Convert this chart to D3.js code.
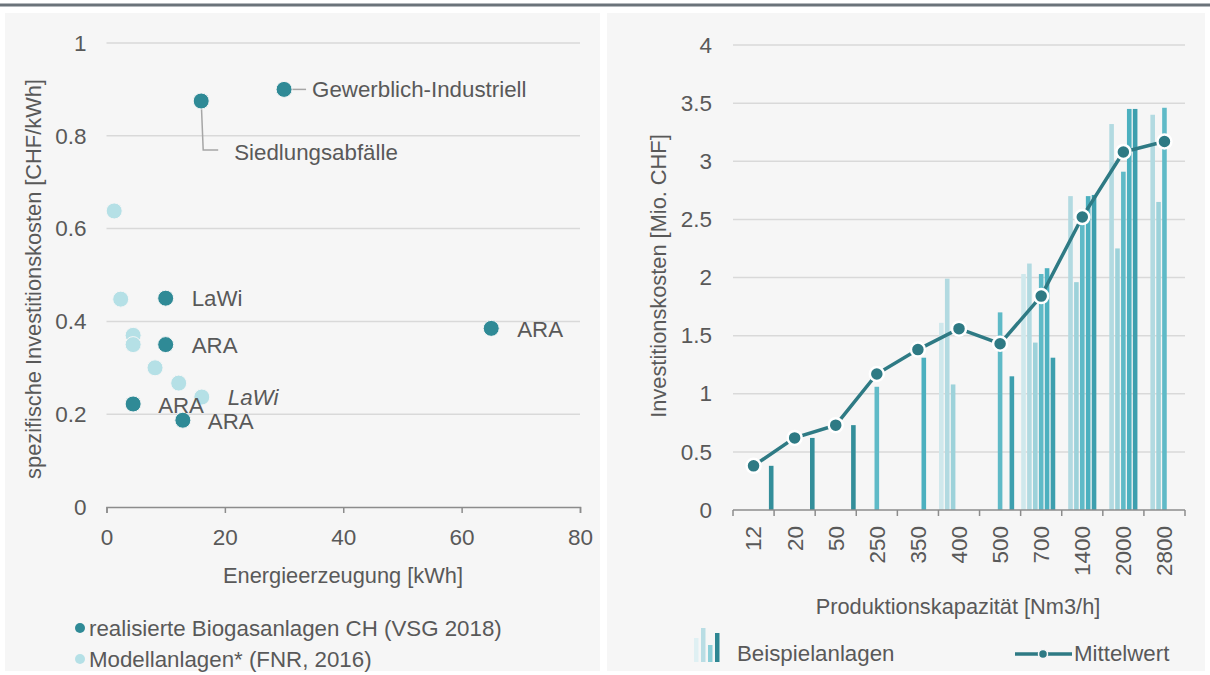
<!DOCTYPE html>
<html>
<head>
<meta charset="utf-8">
<script src="https://cdn.jsdelivr.net/npm/d3@7"></script>
<style>
  body { margin: 0; background: #fff; }
  svg text { font-family: "Liberation Sans", Arial, sans-serif; fill: #595959; }
</style>
</head>
<body>
<div id="chart"></div>
<script>
// ---- left chart: specific investment cost vs. energy production
var realX = [30, 16, 10, 10, 4.5, 12.9, 65];
var realY = [0.90, 0.875, 0.45, 0.35, 0.222, 0.187, 0.385];
var realLabels = ["Gewerblich-Industriell", "Siedlungsabfälle", "LaWi", "ARA", "ARA", "ARA", "ARA"];
var modelX = [1.3, 2.4, 4.5, 4.5, 8.2, 12.2, 16.1];
var modelY = [0.638, 0.448, 0.37, 0.35, 0.30, 0.267, 0.237];
var modelLabels = [null, null, null, null, null, null, "LaWi"];
var scatterXTicks = [0, 20, 40, 60, 80];
var scatterYTicks = [0, 0.2, 0.4, 0.6, 0.8, 1];

// ---- right chart: investment cost by production capacity
var capacities = ["12", "20", "50", "250", "350", "400", "500", "700", "1400", "2000", "2800"];
var anlage1 = [null, null, null, null, null, 1.61, null, 2.03, null, null, null];
var anlage2 = [null, null, null, null, null, 1.99, null, 2.12, 2.70, 3.32, 3.40];
var anlage3 = [null, null, null, null, null, 1.08, null, 1.44, 1.96, 2.25, 2.65];
var anlage4 = [null, null, null, 1.06, null, null, 1.70, 2.03, 2.48, 2.91, 3.46];
var anlage5 = [null, null, null, null, 1.31, null, null, 2.08, 2.70, 3.45, null];
var anlage6 = [null, null, null, null, null, null, 1.15, 1.31, 2.71, 3.45, null];
var anlage7 = [0.38, 0.62, 0.73, null, null, null, null, null, null, null, null];
var mittelwert = [0.38, 0.62, 0.73, 1.17, 1.38, 1.56, 1.43, 1.84, 2.52, 3.08, 3.17];
var barYTicks = [0, 0.5, 1, 1.5, 2, 2.5, 3, 3.5, 4];

var anlagen = [anlage1, anlage2, anlage3, anlage4, anlage5, anlage6, anlage7];
var shades = ["#cfe8ec", "#b2dae1", "#9dd2da", "#5fbac7", "#4cb0bf", "#3d9fae", "#338e9a"];
var dark = "#2f8a96", light = "#b5e0e6", lineColor = "#2e7a84";
var gridColor = "#d9d9d9", axisColor = "#8c8c8c";
var tickSize = 22.5, labelSize = 22.3, titleSize = 21.8;

var svg = d3.select("#chart").append("svg")
    .attr("width", 1210)
    .attr("height", 675);

// page frame
svg.append("line")
    .attr("x1", 0).attr("x2", 1210).attr("y1", 5).attr("y2", 5)
    .attr("stroke", "#6b737a").attr("stroke-width", 3);
svg.append("rect").attr("x", 5).attr("y", 13).attr("width", 595).attr("height", 658).attr("fill", "#f6f6f6");
svg.append("rect").attr("x", 607).attr("y", 13).attr("width", 598).attr("height", 658).attr("fill", "#f6f6f6");

// ================= left scatter =================
var x = d3.scaleLinear().domain([0, 80]).range([106.5, 580]);
var y = d3.scaleLinear().domain([0, 1]).range([507, 43]);

var left = svg.append("g");

left.append("g")
    .selectAll("line")
    .data(scatterYTicks.filter(function (d) { return d > 0; }))
    .enter().append("line")
    .attr("x1", x(0)).attr("x2", x(80))
    .attr("y1", function (d) { return y(d); })
    .attr("y2", function (d) { return y(d); })
    .attr("stroke", gridColor).attr("stroke-width", 1.5);

var xAxisL = left.append("g")
    .attr("transform", "translate(0," + y(0) + ")")
    .call(d3.axisBottom(x).tickValues(scatterXTicks).tickSize(6).tickPadding(16));
xAxisL.selectAll("path, line").attr("stroke", axisColor).attr("stroke-width", 1.5);
xAxisL.selectAll("text").attr("font-size", tickSize).attr("fill", "#595959");

var yAxisL = left.append("g")
    .attr("transform", "translate(" + (x(0) - 20) + ",0)")
    .call(d3.axisLeft(y).tickValues(scatterYTicks).tickSize(0).tickPadding(0)
        .tickFormat(function (d) { return String(d); }));
yAxisL.select(".domain").remove();
yAxisL.selectAll("text").attr("font-size", tickSize).attr("fill", "#595959");

left.append("text")
    .attr("transform", "translate(33," + ((y(0) + y(1)) / 2 + 4) + ") rotate(-90)")
    .attr("text-anchor", "middle").attr("dy", "0.35em")
    .attr("font-size", titleSize)
    .text("spezifische Investitionskosten [CHF/kWh]");

left.append("text")
    .attr("x", 343).attr("y", 575).attr("dy", "0.35em")
    .attr("text-anchor", "middle").attr("font-size", titleSize)
    .text("Energieerzeugung [kWh]");

// leader lines for the two outlying labels
left.append("path")
    .attr("d", "M" + x(realX[0]) + "," + y(realY[0]) + "H" + (x(realX[0]) + 22))
    .attr("stroke", "#a6a6a6").attr("stroke-width", 1.5).attr("fill", "none");
left.append("path")
    .attr("d", "M" + x(realX[1]) + "," + y(realY[1]) + "L" + (x(realX[1]) + 2) + "," + (y(realY[1]) + 49) + "H" + (x(realX[1]) + 17))
    .attr("stroke", "#a6a6a6").attr("stroke-width", 1.5).attr("fill", "none");

left.append("g").selectAll("circle")
    .data(modelX)
    .enter().append("circle")
    .attr("cx", function (d) { return x(d); })
    .attr("cy", function (d, i) { return y(modelY[i]); })
    .attr("r", 8)
    .attr("fill", light).attr("stroke", "#f6f6f6").attr("stroke-width", 1);

left.append("g").selectAll("circle")
    .data(realX)
    .enter().append("circle")
    .attr("cx", function (d) { return x(d); })
    .attr("cy", function (d, i) { return y(realY[i]); })
    .attr("r", 8)
    .attr("fill", dark).attr("stroke", "#f6f6f6").attr("stroke-width", 1);

// point labels
var labelShift = [[28, 0], [33, 51], [26, 0], [26, 1], [25, 1], [25, 1], [26, 1]];
left.append("g").selectAll("text")
    .data(realLabels)
    .enter().append("text")
    .attr("x", function (d, i) { return x(realX[i]) + labelShift[i][0]; })
    .attr("y", function (d, i) { return y(realY[i]) + labelShift[i][1]; })
    .attr("dy", "0.35em").attr("font-size", labelSize)
    .attr("fill", "#404040")
    .text(function (d) { return d; });
var modelIdx = d3.range(modelLabels.length).filter(function (i) { return modelLabels[i]; });
left.append("g").selectAll("text")
    .data(modelIdx)
    .enter().append("text")
    .attr("x", function (i) { return x(modelX[i]) + 26; })
    .attr("y", function (i) { return y(modelY[i]) + 0; })
    .attr("dy", "0.35em").attr("font-size", labelSize).attr("font-style", "italic")
    .attr("fill", "#404040")
    .text(function (i) { return modelLabels[i]; });

// legend left
var legL = left.append("g");
[["realisierte Biogasanlagen CH (VSG 2018)", dark], ["Modellanlagen* (FNR, 2016)", light]].forEach(function (item, i) {
    legL.append("circle").attr("cx", 80).attr("cy", 628 + i * 31).attr("r", 5).attr("fill", item[1]);
    legL.append("text").attr("x", 89).attr("y", 628 + i * 31).attr("dy", "0.35em")
        .attr("font-size", labelSize).text(item[0]);
});

// ================= right bar/line chart =================
var xb = d3.scaleBand().domain(capacities).range([733, 1185]).padding(0);
var xs = d3.scaleBand().domain(d3.range(anlagen.length)).range([0, xb.bandwidth()]).paddingInner(0.22).paddingOuter(0.1);
var yb = d3.scaleLinear().domain([0, 4]).range([510, 45]);

var right = svg.append("g");

right.append("g").selectAll("line")
    .data(barYTicks.filter(function (d) { return d > 0; }))
    .enter().append("line")
    .attr("x1", 733).attr("x2", 1185)
    .attr("y1", function (d) { return yb(d); })
    .attr("y2", function (d) { return yb(d); })
    .attr("stroke", gridColor).attr("stroke-width", 1.5);

var yAxisR = right.append("g")
    .attr("transform", "translate(712,0)")
    .call(d3.axisLeft(yb).tickValues(barYTicks).tickSize(0).tickPadding(0)
        .tickFormat(function (d) { return String(d); }));
yAxisR.select(".domain").remove();
yAxisR.selectAll("text").attr("font-size", tickSize).attr("fill", "#595959");

right.append("text")
    .attr("transform", "translate(658," + 276 + ") rotate(-90)")
    .attr("text-anchor", "middle").attr("dy", "0.35em")
    .attr("font-size", titleSize)
    .text("Investitionskosten [Mio. CHF]");

// bars
anlagen.forEach(function (serie, s) {
    right.append("g").selectAll("rect")
        .data(capacities.filter(function (c, i) { return serie[i] != null; }))
        .enter().append("rect")
        .attr("x", function (c) { return xb(c) + xs(s); })
        .attr("width", xs.bandwidth())
        .attr("y", function (c) { return yb(serie[capacities.indexOf(c)]); })
        .attr("height", function (c) { return yb(0) - yb(serie[capacities.indexOf(c)]); })
        .attr("fill", shades[s]);
});

// x axis with ticks between categories
right.append("line")
    .attr("x1", 733).attr("x2", 1185).attr("y1", yb(0)).attr("y2", yb(0))
    .attr("stroke", axisColor).attr("stroke-width", 1.5);
right.append("g").selectAll("line")
    .data(capacities.concat(["end"]))
    .enter().append("line")
    .attr("x1", function (c) { return c === "end" ? xb.range()[1] : xb(c); })
    .attr("x2", function (c) { return c === "end" ? xb.range()[1] : xb(c); })
    .attr("y1", yb(0)).attr("y2", yb(0) + 6)
    .attr("stroke", axisColor).attr("stroke-width", 1.5);
right.append("g").selectAll("text")
    .data(capacities)
    .enter().append("text")
    .attr("transform", function (c) { return "translate(" + (xb(c) + xb.bandwidth() / 2) + ",526) rotate(-90)"; })
    .attr("text-anchor", "end").attr("dy", "0.35em")
    .attr("font-size", tickSize)
    .text(function (c) { return c; });

right.append("text")
    .attr("x", 958).attr("y", 606).attr("dy", "0.35em")
    .attr("text-anchor", "middle").attr("font-size", titleSize)
    .text("Produktionskapazität [Nm3/h]");

// mean line
var line = d3.line()
    .x(function (d, i) { return xb(capacities[i]) + xb.bandwidth() / 2; })
    .y(function (d) { return yb(d); });
right.append("path")
    .datum(mittelwert)
    .attr("d", line)
    .attr("fill", "none").attr("stroke", lineColor).attr("stroke-width", 3.5);
right.append("g").selectAll("circle")
    .data(mittelwert)
    .enter().append("circle")
    .attr("cx", function (d, i) { return xb(capacities[i]) + xb.bandwidth() / 2; })
    .attr("cy", function (d) { return yb(d); })
    .attr("r", 7)
    .attr("fill", lineColor).attr("stroke", "#fff").attr("stroke-width", 2.5);

// legend right
var legR = right.append("g");
var iconShades = ["#dff0f3", "#b9dde4", "#8dcfd8", "#2e8692"];
var iconTops = [638, 628, 645, 633];
iconShades.forEach(function (c, i) {
    legR.append("rect").attr("x", 694 + i * 7).attr("y", iconTops[i])
        .attr("width", 4.5).attr("height", 662 - iconTops[i]).attr("fill", c);
});
legR.append("text").attr("x", 737).attr("y", 653).attr("dy", "0.35em")
    .attr("font-size", labelSize).text("Beispielanlagen");
legR.append("line").attr("x1", 1015).attr("x2", 1072).attr("y1", 654).attr("y2", 654)
    .attr("stroke", lineColor).attr("stroke-width", 3.5);
legR.append("circle").attr("cx", 1043).attr("cy", 654).attr("r", 4.5)
    .attr("fill", lineColor).attr("stroke", "#f6f6f6").attr("stroke-width", 1.5);
legR.append("text").attr("x", 1074).attr("y", 653).attr("dy", "0.35em")
    .attr("font-size", labelSize).text("Mittelwert");
</script>
</body>
</html>
